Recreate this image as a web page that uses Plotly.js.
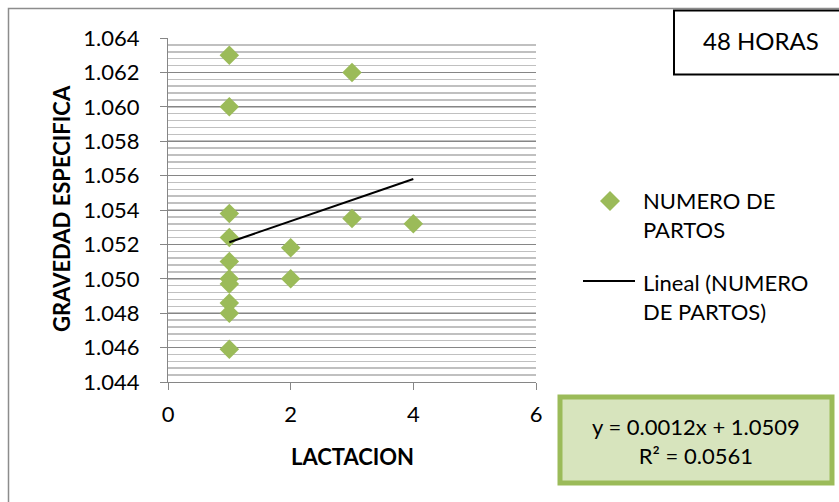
<!DOCTYPE html>
<html>
<head>
<meta charset="utf-8">
<script src="https://cdn.plot.ly/plotly-3.0.1.min.js"></script>
<style>html,body{margin:0;padding:0;background:#fff;}#chart{width:839px;height:502px;}</style>
</head>
<body>
<div id="chart"></div>
<script>
// ---- data ----
const lactacion = [1, 1, 1, 1, 1, 1, 1, 1, 1, 1, 2, 2, 3, 3, 4];
const gravedad = [1.0630, 1.0600, 1.0538, 1.0524, 1.0510, 1.0500, 1.0497, 1.0486, 1.0480, 1.0459,
                  1.0518, 1.0500, 1.0620, 1.0535, 1.0532];
const seriesName = "NUMERO DE PARTOS";
const trendName = "Lineal (NUMERO DE PARTOS)";
const yTickVals = [1.044, 1.046, 1.048, 1.050, 1.052, 1.054, 1.056, 1.058, 1.060, 1.062, 1.064];
const xTickVals = [0, 2, 4, 6];
const eqText = ["y = 0.0012x + 1.0509", "R² = 0.0561"];
const boxTitle = "48 HORAS";
const xTitle = "LACTACION";
const yTitle = "GRAVEDAD ESPECIFICA";

// ---- linear regression (trendline) computed from the data ----
const n = lactacion.length;
const mx = lactacion.reduce((a, b) => a + b, 0) / n;
const my = gravedad.reduce((a, b) => a + b, 0) / n;
let sxy = 0, sxx = 0;
for (let i = 0; i < n; i++) { sxy += (lactacion[i] - mx) * (gravedad[i] - my); sxx += (lactacion[i] - mx) ** 2; }
const slope = sxy / sxx, intercept = my - slope * mx;
const xmin = Math.min(...lactacion), xmax = Math.max(...lactacion);
const trendX = [xmin, xmax];
const trendY = trendX.map(v => intercept + slope * v);

// ---- layout geometry (pixels) ----
const W = 839, H = 502;
const L = 168, R = 536, T = 38, B = 382;
const px = v => (v - L) / (R - L);
const py = v => (B - v) / (B - T);
const FONT = "Lato, 'Liberation Sans', sans-serif";
const green = "#9bbb59";

const traces = [
  { type: "scatter", mode: "markers", name: seriesName, x: lactacion, y: gravedad,
    marker: { symbol: "diamond", size: 15, color: green, line: { width: 0 } },
    showlegend: false, cliponaxis: false },
  { type: "scatter", mode: "lines", name: trendName, x: trendX, y: trendY,
    line: { color: "#000000", width: 2 }, showlegend: false }
];

function diamondPath(cx, cy, r) {
  return `M${px(cx)},${py(cy - r)} L${px(cx + r)},${py(cy)} L${px(cx)},${py(cy + r)} L${px(cx - r)},${py(cy)} Z`;
}

const shapes = [
  // outer chart border
  { type: "rect", xref: "paper", yref: "paper", x0: px(8.5), x1: px(860), y0: py(8.5), y1: py(540),
    line: { color: "#8c8c8c", width: 1.5 }, fillcolor: "rgba(0,0,0,0)", layer: "below" },
  // 48 HORAS box
  { type: "rect", xref: "paper", yref: "paper", x0: px(674), x1: px(860), y0: py(10.5), y1: py(74.5),
    line: { color: "#000000", width: 2 }, fillcolor: "#ffffff" },
  // equation box
  { type: "rect", xref: "paper", yref: "paper", x0: px(560), x1: px(832), y0: py(397), y1: py(483),
    line: { color: green, width: 5 }, fillcolor: "#d7e4bd" },
  // legend: diamond
  { type: "path", xref: "paper", yref: "paper", path: diamondPath(610, 201, 10),
    fillcolor: green, line: { width: 0 } },
  // legend: line
  { type: "line", xref: "paper", yref: "paper", x0: px(583), x1: px(635), y0: py(281), y1: py(281),
    line: { color: "#000000", width: 2 } }
];

const annotations = [
  { xref: "paper", yref: "paper", x: px(61), y: py(209), text: `<b>${yTitle}</b>`, textangle: -90,
    showarrow: false, xanchor: "center", yanchor: "middle", font: { family: FONT, size: 22, color: "#000" } },
  { xref: "paper", yref: "paper", x: px(352), y: py(456), text: `<b>${xTitle}</b>`,
    showarrow: false, xanchor: "center", yanchor: "middle", font: { family: FONT, size: 22, color: "#000" } },
  { xref: "paper", yref: "paper", x: px(761), y: py(40), text: boxTitle,
    showarrow: false, xanchor: "center", yanchor: "middle", font: { family: FONT, size: 24, color: "#000" } },
  { xref: "paper", yref: "paper", x: px(641), y: py(215), text: "NUMERO DE<br>PARTOS", align: "left",
    showarrow: false, xanchor: "left", yanchor: "middle", font: { family: FONT, size: 22, color: "#000" } },
  { xref: "paper", yref: "paper", x: px(641), y: py(297), text: "Lineal (NUMERO<br>DE PARTOS)", align: "left",
    showarrow: false, xanchor: "left", yanchor: "middle", font: { family: FONT, size: 22, color: "#000" } },
  { xref: "paper", yref: "paper", x: px(696), y: py(441), text: eqText.join("<br>"), align: "center",
    showarrow: false, xanchor: "center", yanchor: "middle", font: { family: FONT, size: 22, color: "#000" } }
];

const layout = {
  width: W, height: H,
  margin: { l: L, r: W - R, t: T, b: H - B, pad: 0 },
  paper_bgcolor: "#ffffff", plot_bgcolor: "#ffffff",
  showlegend: false,
  font: { family: FONT, size: 22, color: "#000" },
  xaxis: {
    range: [0, 6], tickvals: xTickVals, ticktext: xTickVals.map(String),
    showgrid: false, zeroline: false, showline: true, linecolor: "#868686", linewidth: 1,
    ticks: "outside", ticklen: 7, tickcolor: "#868686", tickwidth: 1,
    ticklabelstandoff: 6, tickfont: { family: FONT, size: 22, color: "#000" }, fixedrange: true
  },
  yaxis: {
    range: [1.044, 1.064], tickvals: yTickVals, ticktext: yTickVals.map(v => v.toFixed(3)),
    showgrid: true, gridcolor: "#868686", gridwidth: 1,
    minor: { dtick: 0.0004, tick0: 1.044, showgrid: true, gridcolor: "#c0c0c0", gridwidth: 1.5, ticks: "" },
    zeroline: false, showline: true, linecolor: "#868686", linewidth: 1,
    ticks: "outside", ticklen: 7, tickcolor: "#868686", tickwidth: 1,
    ticklabelstandoff: 16, tickfont: { family: FONT, size: 22, color: "#000" }, fixedrange: true
  },
  shapes: shapes,
  annotations: annotations
};

Plotly.newPlot("chart", traces, layout, { staticPlot: true, displayModeBar: false });
</script>
</body>
</html>
